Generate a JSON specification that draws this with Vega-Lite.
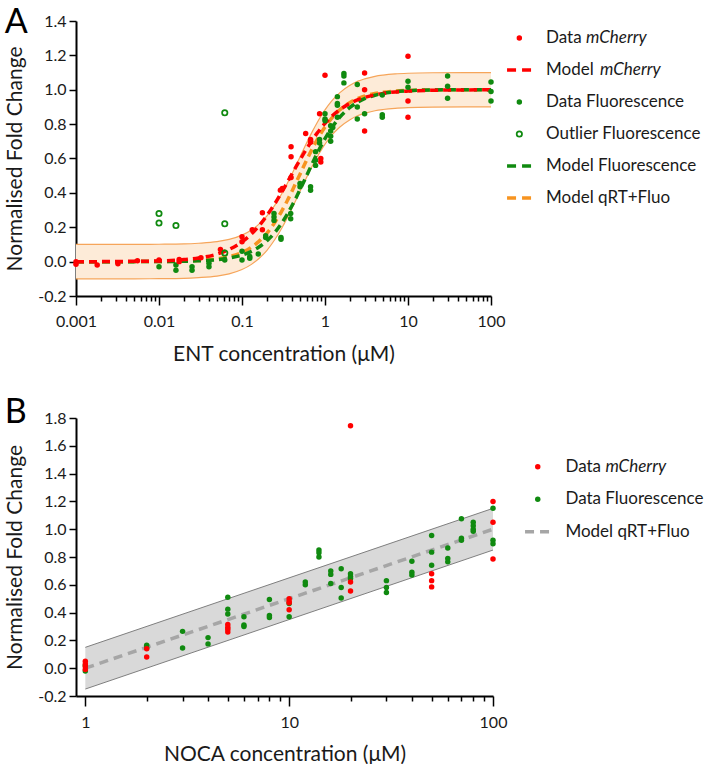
{
  "$schema": "https://vega.github.io/schema/vega-lite/v6.json",
  "padding": {"left": 4, "top": 6, "right": 0, "bottom": 0},
  "config": {
    "font": "Lato",
    "view": {"stroke": null},
    "axis": {
      "grid": false,
      "labelOverlap": false,
      "labelFontSize": 16,
      "titleFontSize": 21,
      "titleFontWeight": "normal",
      "labelColor": "#1a1a1a",
      "titleColor": "#1a1a1a",
      "domainColor": "#000000",
      "domainWidth": 2,
      "tickColor": "#000000",
      "tickWidth": 1.5
    },
    "title": {"fontSize": 34, "fontWeight": "normal", "anchor": "start", "frame": "bounds", "color": "#000000"}
  },
  "datasets": {
    "entModel": [
      {"conc": 0.001, "mCherry": 0.000, "fluo": 0.000, "qrt": 0.000, "lo": -0.100, "hi": 0.100},
      {"conc": 0.002, "mCherry": 0.000, "fluo": 0.000, "qrt": 0.000, "lo": -0.100, "hi": 0.100},
      {"conc": 0.003, "mCherry": 0.001, "fluo": 0.000, "qrt": 0.000, "lo": -0.100, "hi": 0.100},
      {"conc": 0.005, "mCherry": 0.002, "fluo": 0.000, "qrt": 0.000, "lo": -0.100, "hi": 0.100},
      {"conc": 0.01, "mCherry": 0.004, "fluo": 0.001, "qrt": 0.001, "lo": -0.099, "hi": 0.101},
      {"conc": 0.02, "mCherry": 0.012, "fluo": 0.002, "qrt": 0.003, "lo": -0.097, "hi": 0.103},
      {"conc": 0.03, "mCherry": 0.021, "fluo": 0.005, "qrt": 0.007, "lo": -0.093, "hi": 0.107},
      {"conc": 0.05, "mCherry": 0.044, "fluo": 0.011, "qrt": 0.016, "lo": -0.084, "hi": 0.116},
      {"conc": 0.07, "mCherry": 0.071, "fluo": 0.021, "qrt": 0.029, "lo": -0.071, "hi": 0.129},
      {"conc": 0.1, "mCherry": 0.115, "fluo": 0.038, "qrt": 0.054, "lo": -0.046, "hi": 0.154},
      {"conc": 0.13, "mCherry": 0.161, "fluo": 0.060, "qrt": 0.084, "lo": -0.016, "hi": 0.184},
      {"conc": 0.16, "mCherry": 0.208, "fluo": 0.085, "qrt": 0.118, "lo": 0.018, "hi": 0.218},
      {"conc": 0.2, "mCherry": 0.269, "fluo": 0.122, "qrt": 0.166, "lo": 0.066, "hi": 0.266},
      {"conc": 0.25, "mCherry": 0.339, "fluo": 0.171, "qrt": 0.230, "lo": 0.130, "hi": 0.330},
      {"conc": 0.3, "mCherry": 0.403, "fluo": 0.223, "qrt": 0.293, "lo": 0.193, "hi": 0.393},
      {"conc": 0.35, "mCherry": 0.460, "fluo": 0.275, "qrt": 0.353, "lo": 0.253, "hi": 0.453},
      {"conc": 0.4, "mCherry": 0.510, "fluo": 0.325, "qrt": 0.410, "lo": 0.310, "hi": 0.510},
      {"conc": 0.45, "mCherry": 0.554, "fluo": 0.373, "qrt": 0.462, "lo": 0.362, "hi": 0.562},
      {"conc": 0.5, "mCherry": 0.592, "fluo": 0.419, "qrt": 0.509, "lo": 0.409, "hi": 0.609},
      {"conc": 0.6, "mCherry": 0.656, "fluo": 0.500, "qrt": 0.590, "lo": 0.490, "hi": 0.690},
      {"conc": 0.7, "mCherry": 0.706, "fluo": 0.569, "qrt": 0.655, "lo": 0.555, "hi": 0.755},
      {"conc": 0.8, "mCherry": 0.746, "fluo": 0.627, "qrt": 0.707, "lo": 0.607, "hi": 0.807},
      {"conc": 0.9, "mCherry": 0.778, "fluo": 0.675, "qrt": 0.749, "lo": 0.649, "hi": 0.849},
      {"conc": 1, "mCherry": 0.804, "fluo": 0.715, "qrt": 0.783, "lo": 0.683, "hi": 0.883},
      {"conc": 1.2, "mCherry": 0.844, "fluo": 0.777, "qrt": 0.834, "lo": 0.734, "hi": 0.934},
      {"conc": 1.5, "mCherry": 0.883, "fluo": 0.839, "qrt": 0.882, "lo": 0.782, "hi": 0.982},
      {"conc": 2, "mCherry": 0.921, "fluo": 0.897, "qrt": 0.926, "lo": 0.826, "hi": 1.026},
      {"conc": 2.5, "mCherry": 0.942, "fluo": 0.929, "qrt": 0.950, "lo": 0.850, "hi": 1.050},
      {"conc": 3, "mCherry": 0.955, "fluo": 0.948, "qrt": 0.963, "lo": 0.863, "hi": 1.063},
      {"conc": 4, "mCherry": 0.971, "fluo": 0.968, "qrt": 0.978, "lo": 0.878, "hi": 1.078},
      {"conc": 5, "mCherry": 0.979, "fluo": 0.979, "qrt": 0.985, "lo": 0.885, "hi": 1.085},
      {"conc": 7, "mCherry": 0.987, "fluo": 0.988, "qrt": 0.992, "lo": 0.892, "hi": 1.092},
      {"conc": 10, "mCherry": 0.992, "fluo": 0.994, "qrt": 0.996, "lo": 0.896, "hi": 1.096},
      {"conc": 20, "mCherry": 0.997, "fluo": 0.999, "qrt": 0.999, "lo": 0.899, "hi": 1.099},
      {"conc": 50, "mCherry": 0.999, "fluo": 1.000, "qrt": 1.000, "lo": 0.900, "hi": 1.100},
      {"conc": 100, "mCherry": 1.000, "fluo": 1.000, "qrt": 1.000, "lo": 0.900, "hi": 1.100}
    ],
    "entPoints": [
      {"conc": 0.01, "fc": -0.03, "series": "Data Fluorescence"},
      {"conc": 0.016, "fc": -0.02, "series": "Data Fluorescence"},
      {"conc": 0.016, "fc": -0.05, "series": "Data Fluorescence"},
      {"conc": 0.025, "fc": -0.03, "series": "Data Fluorescence"},
      {"conc": 0.025, "fc": -0.05, "series": "Data Fluorescence"},
      {"conc": 0.04, "fc": -0.01, "series": "Data Fluorescence"},
      {"conc": 0.04, "fc": -0.03, "series": "Data Fluorescence"},
      {"conc": 0.062, "fc": 0.01, "series": "Data Fluorescence"},
      {"conc": 0.1, "fc": 0.06, "series": "Data Fluorescence"},
      {"conc": 0.1, "fc": 0.01, "series": "Data Fluorescence"},
      {"conc": 0.124, "fc": 0.03, "series": "Data Fluorescence"},
      {"conc": 0.124, "fc": 0.02, "series": "Data Fluorescence"},
      {"conc": 0.157, "fc": 0.045, "series": "Data Fluorescence"},
      {"conc": 0.193, "fc": 0.14, "series": "Data Fluorescence"},
      {"conc": 0.193, "fc": 0.15, "series": "Data Fluorescence"},
      {"conc": 0.243, "fc": 0.28, "series": "Data Fluorescence"},
      {"conc": 0.243, "fc": 0.26, "series": "Data Fluorescence"},
      {"conc": 0.243, "fc": 0.24, "series": "Data Fluorescence"},
      {"conc": 0.295, "fc": 0.14, "series": "Data Fluorescence"},
      {"conc": 0.295, "fc": 0.13, "series": "Data Fluorescence"},
      {"conc": 0.386, "fc": 0.28, "series": "Data Fluorescence"},
      {"conc": 0.386, "fc": 0.25, "series": "Data Fluorescence"},
      {"conc": 0.5, "fc": 0.455, "series": "Data Fluorescence"},
      {"conc": 0.5, "fc": 0.435, "series": "Data Fluorescence"},
      {"conc": 0.67, "fc": 0.435, "series": "Data Fluorescence"},
      {"conc": 0.67, "fc": 0.415, "series": "Data Fluorescence"},
      {"conc": 0.77, "fc": 0.64, "series": "Data Fluorescence"},
      {"conc": 0.77, "fc": 0.59, "series": "Data Fluorescence"},
      {"conc": 0.77, "fc": 0.56, "series": "Data Fluorescence"},
      {"conc": 0.86, "fc": 0.71, "series": "Data Fluorescence"},
      {"conc": 0.86, "fc": 0.69, "series": "Data Fluorescence"},
      {"conc": 1.0, "fc": 0.86, "series": "Data Fluorescence"},
      {"conc": 1.0, "fc": 0.83, "series": "Data Fluorescence"},
      {"conc": 1.0, "fc": 0.82, "series": "Data Fluorescence"},
      {"conc": 1.17, "fc": 0.79, "series": "Data Fluorescence"},
      {"conc": 1.17, "fc": 0.76, "series": "Data Fluorescence"},
      {"conc": 1.17, "fc": 0.73, "series": "Data Fluorescence"},
      {"conc": 1.17, "fc": 0.7, "series": "Data Fluorescence"},
      {"conc": 1.24, "fc": 0.78, "series": "Data Fluorescence"},
      {"conc": 1.41, "fc": 0.96, "series": "Data Fluorescence"},
      {"conc": 1.41, "fc": 0.92, "series": "Data Fluorescence"},
      {"conc": 1.41, "fc": 0.91, "series": "Data Fluorescence"},
      {"conc": 1.41, "fc": 0.84, "series": "Data Fluorescence"},
      {"conc": 1.69, "fc": 1.095, "series": "Data Fluorescence"},
      {"conc": 1.69, "fc": 1.08, "series": "Data Fluorescence"},
      {"conc": 1.69, "fc": 1.04, "series": "Data Fluorescence"},
      {"conc": 2.45, "fc": 1.03, "series": "Data Fluorescence"},
      {"conc": 2.45, "fc": 0.9, "series": "Data Fluorescence"},
      {"conc": 2.45, "fc": 0.83, "series": "Data Fluorescence"},
      {"conc": 3.0, "fc": 0.86, "series": "Data Fluorescence"},
      {"conc": 4.9, "fc": 0.97, "series": "Data Fluorescence"},
      {"conc": 4.9, "fc": 0.855, "series": "Data Fluorescence"},
      {"conc": 4.9, "fc": 0.84, "series": "Data Fluorescence"},
      {"conc": 10, "fc": 1.05, "series": "Data Fluorescence"},
      {"conc": 10, "fc": 1.015, "series": "Data Fluorescence"},
      {"conc": 30, "fc": 1.08, "series": "Data Fluorescence"},
      {"conc": 30, "fc": 1.02, "series": "Data Fluorescence"},
      {"conc": 30, "fc": 0.95, "series": "Data Fluorescence"},
      {"conc": 100, "fc": 1.045, "series": "Data Fluorescence"},
      {"conc": 100, "fc": 0.99, "series": "Data Fluorescence"},
      {"conc": 100, "fc": 0.935, "series": "Data Fluorescence"},
      {"conc": 0.001, "fc": 0.0, "series": "Data mCherry"},
      {"conc": 0.001, "fc": -0.015, "series": "Data mCherry"},
      {"conc": 0.0018, "fc": -0.02, "series": "Data mCherry"},
      {"conc": 0.0032, "fc": -0.012, "series": "Data mCherry"},
      {"conc": 0.0055, "fc": 0.005, "series": "Data mCherry"},
      {"conc": 0.01, "fc": 0.01, "series": "Data mCherry"},
      {"conc": 0.0175, "fc": 0.012, "series": "Data mCherry"},
      {"conc": 0.0175, "fc": 0.0, "series": "Data mCherry"},
      {"conc": 0.032, "fc": 0.022, "series": "Data mCherry"},
      {"conc": 0.055, "fc": 0.07, "series": "Data mCherry"},
      {"conc": 0.1, "fc": 0.145, "series": "Data mCherry"},
      {"conc": 0.1, "fc": 0.115, "series": "Data mCherry"},
      {"conc": 0.133, "fc": 0.185, "series": "Data mCherry"},
      {"conc": 0.176, "fc": 0.285, "series": "Data mCherry"},
      {"conc": 0.176, "fc": 0.185, "series": "Data mCherry"},
      {"conc": 0.29, "fc": 0.416, "series": "Data mCherry"},
      {"conc": 0.306, "fc": 0.426, "series": "Data mCherry"},
      {"conc": 0.39, "fc": 0.668, "series": "Data mCherry"},
      {"conc": 0.39, "fc": 0.61, "series": "Data mCherry"},
      {"conc": 0.39, "fc": 0.49, "series": "Data mCherry"},
      {"conc": 0.585, "fc": 0.745, "series": "Data mCherry"},
      {"conc": 0.67, "fc": 0.71, "series": "Data mCherry"},
      {"conc": 0.67, "fc": 0.695, "series": "Data mCherry"},
      {"conc": 0.86, "fc": 0.86, "series": "Data mCherry"},
      {"conc": 0.89, "fc": 0.6, "series": "Data mCherry"},
      {"conc": 0.89, "fc": 0.58, "series": "Data mCherry"},
      {"conc": 1.0, "fc": 1.085, "series": "Data mCherry"},
      {"conc": 3.0, "fc": 1.098, "series": "Data mCherry"},
      {"conc": 3.0, "fc": 1.0, "series": "Data mCherry"},
      {"conc": 3.0, "fc": 0.76, "series": "Data mCherry"},
      {"conc": 10, "fc": 1.195, "series": "Data mCherry"},
      {"conc": 10, "fc": 0.935, "series": "Data mCherry"},
      {"conc": 10, "fc": 0.84, "series": "Data mCherry"},
      {"conc": 0.01, "fc": 0.28, "series": "Outlier Fluorescence"},
      {"conc": 0.01, "fc": 0.225, "series": "Outlier Fluorescence"},
      {"conc": 0.016, "fc": 0.21, "series": "Outlier Fluorescence"},
      {"conc": 0.062, "fc": 0.866, "series": "Outlier Fluorescence"},
      {"conc": 0.062, "fc": 0.22, "series": "Outlier Fluorescence"},
      {"conc": 0.062, "fc": 0.05, "series": "Outlier Fluorescence"}
    ],
    "nocaModel": [
      {"conc": 1, "model": 0.0, "lo": -0.15, "hi": 0.15},
      {"conc": 100, "model": 1.0, "lo": 0.85, "hi": 1.15}
    ],
    "nocaPoints": [
      {"conc": 1, "fc": -0.02, "series": "Data Fluorescence"},
      {"conc": 1, "fc": 0.02, "series": "Data Fluorescence"},
      {"conc": 2, "fc": 0.165, "series": "Data Fluorescence"},
      {"conc": 2, "fc": 0.145, "series": "Data Fluorescence"},
      {"conc": 3, "fc": 0.265, "series": "Data Fluorescence"},
      {"conc": 3, "fc": 0.145, "series": "Data Fluorescence"},
      {"conc": 4, "fc": 0.22, "series": "Data Fluorescence"},
      {"conc": 4, "fc": 0.175, "series": "Data Fluorescence"},
      {"conc": 5, "fc": 0.51, "series": "Data Fluorescence"},
      {"conc": 5, "fc": 0.425, "series": "Data Fluorescence"},
      {"conc": 5, "fc": 0.39, "series": "Data Fluorescence"},
      {"conc": 6, "fc": 0.37, "series": "Data Fluorescence"},
      {"conc": 6, "fc": 0.31, "series": "Data Fluorescence"},
      {"conc": 6, "fc": 0.3, "series": "Data Fluorescence"},
      {"conc": 8, "fc": 0.495, "series": "Data Fluorescence"},
      {"conc": 8, "fc": 0.38, "series": "Data Fluorescence"},
      {"conc": 8, "fc": 0.365, "series": "Data Fluorescence"},
      {"conc": 10, "fc": 0.465, "series": "Data Fluorescence"},
      {"conc": 10, "fc": 0.37, "series": "Data Fluorescence"},
      {"conc": 12, "fc": 0.62, "series": "Data Fluorescence"},
      {"conc": 12, "fc": 0.6, "series": "Data Fluorescence"},
      {"conc": 14, "fc": 0.85, "series": "Data Fluorescence"},
      {"conc": 14, "fc": 0.83, "series": "Data Fluorescence"},
      {"conc": 14, "fc": 0.8, "series": "Data Fluorescence"},
      {"conc": 16, "fc": 0.7, "series": "Data Fluorescence"},
      {"conc": 16, "fc": 0.675, "series": "Data Fluorescence"},
      {"conc": 16, "fc": 0.61, "series": "Data Fluorescence"},
      {"conc": 18, "fc": 0.715, "series": "Data Fluorescence"},
      {"conc": 18, "fc": 0.58, "series": "Data Fluorescence"},
      {"conc": 18, "fc": 0.505, "series": "Data Fluorescence"},
      {"conc": 20, "fc": 0.68, "series": "Data Fluorescence"},
      {"conc": 20, "fc": 0.66, "series": "Data Fluorescence"},
      {"conc": 20, "fc": 0.645, "series": "Data Fluorescence"},
      {"conc": 30, "fc": 0.63, "series": "Data Fluorescence"},
      {"conc": 30, "fc": 0.58, "series": "Data Fluorescence"},
      {"conc": 30, "fc": 0.545, "series": "Data Fluorescence"},
      {"conc": 40, "fc": 0.77, "series": "Data Fluorescence"},
      {"conc": 40, "fc": 0.69, "series": "Data Fluorescence"},
      {"conc": 40, "fc": 0.67, "series": "Data Fluorescence"},
      {"conc": 50, "fc": 0.955, "series": "Data Fluorescence"},
      {"conc": 50, "fc": 0.835, "series": "Data Fluorescence"},
      {"conc": 50, "fc": 0.74, "series": "Data Fluorescence"},
      {"conc": 60, "fc": 0.865, "series": "Data Fluorescence"},
      {"conc": 60, "fc": 0.79, "series": "Data Fluorescence"},
      {"conc": 60, "fc": 0.765, "series": "Data Fluorescence"},
      {"conc": 70, "fc": 1.075, "series": "Data Fluorescence"},
      {"conc": 70, "fc": 0.935, "series": "Data Fluorescence"},
      {"conc": 70, "fc": 0.92, "series": "Data Fluorescence"},
      {"conc": 80, "fc": 1.05, "series": "Data Fluorescence"},
      {"conc": 80, "fc": 1.025, "series": "Data Fluorescence"},
      {"conc": 80, "fc": 1.0, "series": "Data Fluorescence"},
      {"conc": 80, "fc": 0.985, "series": "Data Fluorescence"},
      {"conc": 100, "fc": 1.15, "series": "Data Fluorescence"},
      {"conc": 100, "fc": 0.92, "series": "Data Fluorescence"},
      {"conc": 100, "fc": 0.895, "series": "Data Fluorescence"},
      {"conc": 1, "fc": 0.05, "series": "Data mCherry"},
      {"conc": 1, "fc": 0.03, "series": "Data mCherry"},
      {"conc": 1, "fc": 0.01, "series": "Data mCherry"},
      {"conc": 1, "fc": -0.01, "series": "Data mCherry"},
      {"conc": 2, "fc": 0.14, "series": "Data mCherry"},
      {"conc": 2, "fc": 0.08, "series": "Data mCherry"},
      {"conc": 5, "fc": 0.315, "series": "Data mCherry"},
      {"conc": 5, "fc": 0.295, "series": "Data mCherry"},
      {"conc": 5, "fc": 0.28, "series": "Data mCherry"},
      {"conc": 5, "fc": 0.26, "series": "Data mCherry"},
      {"conc": 10, "fc": 0.5, "series": "Data mCherry"},
      {"conc": 10, "fc": 0.48, "series": "Data mCherry"},
      {"conc": 10, "fc": 0.47, "series": "Data mCherry"},
      {"conc": 10, "fc": 0.42, "series": "Data mCherry"},
      {"conc": 20, "fc": 1.745, "series": "Data mCherry"},
      {"conc": 20, "fc": 0.62, "series": "Data mCherry"},
      {"conc": 20, "fc": 0.555, "series": "Data mCherry"},
      {"conc": 50, "fc": 0.68, "series": "Data mCherry"},
      {"conc": 50, "fc": 0.63, "series": "Data mCherry"},
      {"conc": 50, "fc": 0.585, "series": "Data mCherry"},
      {"conc": 100, "fc": 1.2, "series": "Data mCherry"},
      {"conc": 100, "fc": 1.05, "series": "Data mCherry"},
      {"conc": 100, "fc": 0.785, "series": "Data mCherry"}
    ],
    "legendA": [
      {"item": "Data mCherry", "kind": "dot", "plain": "Data", "ital": "mCherry"},
      {"item": "Model mCherry", "kind": "dash", "plain": "Model", "ital": "mCherry"},
      {"item": "Data Fluorescence", "kind": "dot", "plain": "Data Fluorescence", "ital": ""},
      {"item": "Outlier Fluorescence", "kind": "ring", "plain": "Outlier Fluorescence", "ital": ""},
      {"item": "Model Fluorescence", "kind": "dash", "plain": "Model Fluorescence", "ital": ""},
      {"item": "Model qRT+Fluo", "kind": "dash", "plain": "Model qRT+Fluo", "ital": ""}
    ],
    "legendB": [
      {"item": "Data mCherry", "kind": "dot", "plain": "Data", "ital": "mCherry"},
      {"item": "Data Fluorescence", "kind": "dot", "plain": "Data Fluorescence", "ital": ""},
      {"item": "Model qRT+Fluo", "kind": "dash", "plain": "Model qRT+Fluo", "ital": ""}
    ]
  },
  "spacing": 32,
  "resolve": {"scale": {"color": "independent"}},
  "vconcat": [
    {
      "title": {"text": "A", "offset": -27},
      "spacing": 0,
      "resolve": {"scale": {"color": "independent"}},
      "hconcat": [
        {
          "width": 415,
          "height": 275,
          "resolve": {"axis": {"y": "independent"}},
          "encoding": {
            "x": {
              "field": "conc",
              "type": "quantitative",
              "scale": {"type": "log", "domain": [0.001, 100]},
              "axis": {
                "title": "ENT concentration (μM)",
                "values": [0.001, 0.002, 0.003, 0.004, 0.005, 0.006, 0.007, 0.008, 0.009, 0.01, 0.02, 0.03, 0.04, 0.05, 0.06, 0.07, 0.08, 0.09, 0.1, 0.2, 0.3, 0.4, 0.5, 0.6, 0.7, 0.8, 0.9, 1, 2, 3, 4, 5, 6, 7, 8, 9, 10, 20, 30, 40, 50, 60, 70, 80, 90, 100],
                "format": "~g",
                "labelExpr": "indexof([0.001, 0.01, 0.1, 1, 10, 100], datum.value) >= 0 ? datum.label : ''",
                "tickSize": {"condition": {"test": "indexof([0.001, 0.01, 0.1, 1, 10, 100], datum.value) >= 0", "value": 9}, "value": 5},
                "labelFlush": false,
                "labelPadding": 8,
                "titlePadding": 14
              }
            }
          },
          "layer": [
            {
              "data": {"name": "entModel"},
              "mark": {"type": "area", "color": "#fdebd8", "opacity": 1, "interpolate": "monotone"},
              "encoding": {
                "y": {
                  "field": "lo",
                  "type": "quantitative",
                  "scale": {"domain": [-0.2, 1.4]},
                  "axis": {
                    "title": "Normalised Fold Change",
                    "values": [-0.2, 0, 0.2, 0.4, 0.6, 0.8, 1, 1.2, 1.4],
                    "format": ".1f",
                    "labelExpr": "replace(datum.label, '−', '-')",
                    "labelOverlap": false,
                    "tickSize": 7,
                    "labelPadding": 3,
                    "titlePadding": 12
                  }
                },
                "y2": {"field": "hi"}
              }
            },
            {
              "data": {"name": "entModel"},
              "mark": {"type": "line", "color": "#f6a55a", "strokeWidth": 1.2, "interpolate": "monotone"},
              "encoding": {"y": {"field": "lo", "type": "quantitative", "axis": null}}
            },
            {
              "data": {"name": "entModel"},
              "mark": {"type": "line", "color": "#f6a55a", "strokeWidth": 1.2, "interpolate": "monotone"},
              "encoding": {"y": {"field": "hi", "type": "quantitative", "axis": null}}
            },
            {
              "data": {"name": "entModel"},
              "mark": {"type": "line", "color": "#f79420", "strokeWidth": 3.5, "strokeDash": [8, 5], "interpolate": "monotone"},
              "encoding": {"y": {"field": "qrt", "type": "quantitative", "axis": null}}
            },
            {
              "data": {"name": "entModel"},
              "mark": {"type": "line", "color": "#108a10", "strokeWidth": 3.5, "strokeDash": [8, 5], "interpolate": "monotone"},
              "encoding": {"y": {"field": "fluo", "type": "quantitative", "axis": null}}
            },
            {
              "data": {"name": "entModel"},
              "mark": {"type": "line", "color": "#ff0000", "strokeWidth": 3.5, "strokeDash": [8, 5], "interpolate": "monotone"},
              "encoding": {"y": {"field": "mCherry", "type": "quantitative", "axis": null}}
            },
            {
              "data": {"name": "entPoints"},
              "transform": [{"filter": "datum.series != 'Outlier Fluorescence'"}],
              "mark": {"type": "point", "filled": true, "opacity": 1, "size": 30},
              "encoding": {
                "y": {"field": "fc", "type": "quantitative", "axis": null},
                "color": {
                  "field": "series",
                  "type": "nominal",
                  "scale": {"domain": ["Data mCherry", "Data Fluorescence", "Outlier Fluorescence"], "range": ["#ff0000", "#108a10", "#108a10"]},
                  "legend": null
                }
              }
            },
            {
              "data": {"name": "entPoints"},
              "transform": [{"filter": "datum.series == 'Outlier Fluorescence'"}],
              "mark": {"type": "point", "filled": false, "opacity": 1, "size": 28, "strokeWidth": 1.8},
              "encoding": {
                "y": {"field": "fc", "type": "quantitative", "axis": null},
                "color": {"field": "series", "type": "nominal", "legend": null}
              }
            }
          ]
        },
        {
          "width": 205,
          "height": 194,
          "data": {"name": "legendA"},
          "encoding": {
            "y": {
              "field": "item",
              "type": "nominal",
              "scale": {"type": "point", "padding": 0.53, "domain": ["Data mCherry", "Model mCherry", "Data Fluorescence", "Outlier Fluorescence", "Model Fluorescence", "Model qRT+Fluo"]},
              "axis": null
            },
            "color": {
              "field": "item",
              "type": "nominal",
              "scale": {"domain": ["Data mCherry", "Model mCherry", "Data Fluorescence", "Outlier Fluorescence", "Model Fluorescence", "Model qRT+Fluo"], "range": ["#ff0000", "#ff0000", "#108a10", "#108a10", "#108a10", "#f79420"]},
              "legend": null
            }
          },
          "layer": [
            {
              "transform": [{"filter": "datum.kind == 'dot'"}],
              "mark": {"type": "point", "filled": true, "opacity": 1, "size": 30},
              "encoding": {"x": {"datum": 0.7, "type": "quantitative", "scale": {"domain": [0, 10]}, "axis": null}}
            },
            {
              "transform": [{"filter": "datum.kind == 'ring'"}],
              "mark": {"type": "point", "filled": false, "opacity": 1, "size": 28, "strokeWidth": 1.8},
              "encoding": {"x": {"datum": 0.7, "type": "quantitative"}}
            },
            {
              "transform": [{"filter": "datum.kind == 'dash'"}],
              "mark": {"type": "rule", "strokeWidth": 3.5, "strokeDash": [9, 6]},
              "encoding": {"x": {"datum": 0.1, "type": "quantitative"}, "x2": {"datum": 1.3}}
            },
            {
              "mark": {"type": "text", "align": "left", "baseline": "middle", "fontSize": 17},
              "encoding": {"x": {"datum": 2.0, "type": "quantitative"}, "text": {"field": "plain"}, "color": {"value": "#1a1a1a"}}
            },
            {
              "transform": [{"filter": "datum.ital != '' && datum.plain == 'Data'"}],
              "mark": {"type": "text", "align": "left", "baseline": "middle", "fontSize": 17, "fontStyle": "italic", "dx": 40},
              "encoding": {"x": {"datum": 2.0, "type": "quantitative"}, "text": {"field": "ital"}, "color": {"value": "#1a1a1a"}}
            },
            {
              "transform": [{"filter": "datum.ital != '' && datum.plain == 'Model'"}],
              "mark": {"type": "text", "align": "left", "baseline": "middle", "fontSize": 17, "fontStyle": "italic", "dx": 54},
              "encoding": {"x": {"datum": 2.0, "type": "quantitative"}, "text": {"field": "ital"}, "color": {"value": "#1a1a1a"}}
            }
          ]
        }
      ]
    },
    {
      "title": {"text": "B", "offset": -20},
      "spacing": 0,
      "resolve": {"scale": {"color": "independent"}},
      "hconcat": [
        {
          "width": 417,
          "height": 278,
          "resolve": {"axis": {"y": "independent"}},
          "encoding": {
            "x": {
              "field": "conc",
              "type": "quantitative",
              "scale": {"type": "log", "domain": [0.9, 100]},
              "axis": {
                "title": "NOCA concentration (μM)",
                "values": [1, 2, 3, 4, 5, 6, 7, 8, 9, 10, 20, 30, 40, 50, 60, 70, 80, 90, 100],
                "format": "~g",
                "labelExpr": "indexof([1, 10, 100], datum.value) >= 0 ? datum.label : ''",
                "tickSize": {"condition": {"test": "indexof([1, 10, 100], datum.value) >= 0", "value": 10}, "value": 5},
                "labelFlush": false,
                "labelPadding": 8,
                "titlePadding": 13
              }
            }
          },
          "layer": [
            {
              "data": {"name": "nocaModel"},
              "mark": {"type": "area", "color": "#d9d9d9", "opacity": 1},
              "encoding": {
                "y": {
                  "field": "lo",
                  "type": "quantitative",
                  "scale": {"domain": [-0.2, 1.8]},
                  "axis": {
                    "title": "Normalised Fold Change",
                    "values": [-0.2, 0, 0.2, 0.4, 0.6, 0.8, 1, 1.2, 1.4, 1.6, 1.8],
                    "format": ".1f",
                    "labelExpr": "replace(datum.label, '−', '-')",
                    "labelOverlap": false,
                    "tickSize": 7,
                    "labelPadding": 3,
                    "titlePadding": 12
                  }
                },
                "y2": {"field": "hi"}
              }
            },
            {
              "data": {"name": "nocaModel"},
              "mark": {"type": "line", "color": "#7f7f7f", "strokeWidth": 1},
              "encoding": {"y": {"field": "lo", "type": "quantitative", "axis": null}}
            },
            {
              "data": {"name": "nocaModel"},
              "mark": {"type": "line", "color": "#7f7f7f", "strokeWidth": 1},
              "encoding": {"y": {"field": "hi", "type": "quantitative", "axis": null}}
            },
            {
              "data": {"name": "nocaModel"},
              "mark": {"type": "line", "color": "#a6a6a6", "strokeWidth": 3.5, "strokeDash": [9, 6]},
              "encoding": {"y": {"field": "model", "type": "quantitative", "axis": null}}
            },
            {
              "data": {"name": "nocaPoints"},
              "mark": {"type": "point", "filled": true, "opacity": 1, "size": 30},
              "encoding": {
                "y": {"field": "fc", "type": "quantitative", "axis": null},
                "color": {
                  "field": "series",
                  "type": "nominal",
                  "scale": {"domain": ["Data mCherry", "Data Fluorescence"], "range": ["#ff0000", "#108a10"]},
                  "legend": null
                }
              }
            }
          ]
        },
        {
          "width": 205,
          "height": 130,
          "data": {"name": "legendB"},
          "encoding": {
            "y": {
              "field": "item",
              "type": "nominal",
              "scale": {"type": "point", "padding": 0.5, "domain": ["gap", "Data mCherry", "Data Fluorescence", "Model qRT+Fluo"]},
              "axis": null
            },
            "color": {
              "field": "item",
              "type": "nominal",
              "scale": {"domain": ["Data mCherry", "Data Fluorescence", "Model qRT+Fluo"], "range": ["#ff0000", "#108a10", "#a6a6a6"]},
              "legend": null
            }
          },
          "layer": [
            {
              "transform": [{"filter": "datum.kind == 'dot'"}],
              "mark": {"type": "point", "filled": true, "opacity": 1, "size": 30},
              "encoding": {"x": {"datum": 1.5, "type": "quantitative", "scale": {"domain": [0, 10]}, "axis": null}}
            },
            {
              "transform": [{"filter": "datum.kind == 'dash'"}],
              "mark": {"type": "rule", "strokeWidth": 3.5, "strokeDash": [9, 6]},
              "encoding": {"x": {"datum": 0.88, "type": "quantitative"}, "x2": {"datum": 2.1}}
            },
            {
              "mark": {"type": "text", "align": "left", "baseline": "middle", "fontSize": 17},
              "encoding": {"x": {"datum": 2.85, "type": "quantitative"}, "text": {"field": "plain"}, "color": {"value": "#1a1a1a"}}
            },
            {
              "transform": [{"filter": "datum.ital != '' && datum.plain == 'Data'"}],
              "mark": {"type": "text", "align": "left", "baseline": "middle", "fontSize": 17, "fontStyle": "italic", "dx": 40},
              "encoding": {"x": {"datum": 2.85, "type": "quantitative"}, "text": {"field": "ital"}, "color": {"value": "#1a1a1a"}}
            }
          ]
        }
      ]
    }
  ]
}
